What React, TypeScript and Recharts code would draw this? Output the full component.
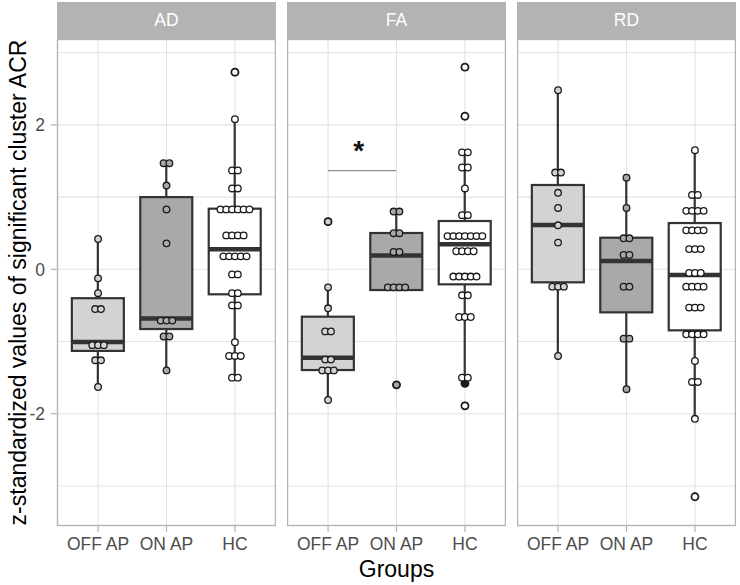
import React from 'react';
import { ComposedChart, Bar, Scatter, XAxis, YAxis, CartesianGrid, ReferenceLine } from 'recharts';

// facets and groups
const facets = ['AD', 'FA', 'RD'];
const groups = ['OFF AP', 'ON AP', 'HC'];
const yTicks = [-3, -2, -1, 0, 1, 2, 3];
const yDomain = [-3.555, 3.19];

// box stats, one row per facet (AD, FA, RD), columns OFF AP / ON AP / HC
const whiskerLow = [[-1.63, -1.40, -1.50], [-1.81, -0.287, -1.50], [-1.20, -1.66, -2.07]];
const q1 = [[-1.13, -0.827, -0.346], [-1.395, -0.287, -0.208], [-0.18, -0.596, -0.845]];
const median = [[-1.007, -0.68, 0.277], [-1.224, 0.19, 0.346], [0.614, 0.115, -0.079]];
const q3 = [[-0.40, 1.0, 0.84], [-0.656, 0.503, 0.669], [1.168, 0.438, 0.641]];
const whiskerHigh = [[0.42, 1.47, 2.08], [-0.25, 0.80, 1.62], [2.48, 1.27, 1.65]];

// dotplot values (binned), per group
const dotsAD = [
  [0.42, -0.125, -0.33, -0.55, -0.55, -1.05, -1.05, -1.05, -1.26, -1.26, -1.63],
  [1.47, 1.47, 1.16, 0.83, 0.36, -0.71, -0.71, -0.71, -0.93, -0.93, -1.40],
  [2.73, 2.08, 1.37, 1.37, 1.12, 1.12, 0.83, 0.83, 0.83, 0.83, 0.83, 0.83, 0.47, 0.47, 0.47, 0.47,
    0.18, 0.18, 0.18, 0.18, 0.18, -0.07, -0.07, -0.33, -0.33, -0.50, -0.50, -1.01, -1.20, -1.20, -1.20, -1.50, -1.50],
];
const dotsFA = [
  [0.66, -0.25, -0.54, -0.86, -0.86, -1.25, -1.25, -1.40, -1.40, -1.40, -1.81],
  [0.80, 0.80, 0.50, 0.50, 0.24, 0.24, -0.25, -0.25, -0.25, -0.25, -1.60],
  [2.80, 2.12, 1.62, 1.62, 1.41, 1.41, 1.12, 0.75, 0.75, 0.46, 0.46, 0.46, 0.46, 0.46, 0.46, 0.46,
    0.25, 0.25, 0.25, 0.25, -0.10, -0.10, -0.10, -0.10, -0.10, -0.36, -0.36, -0.66, -0.66, -0.66, -1.50, -1.50, -1.89],
];
const dotsRD = [
  [2.48, 1.34, 1.34, 1.06, 0.85, 0.61, 0.37, -0.24, -0.24, -0.24, -1.20],
  [1.27, 0.85, 0.43, 0.43, 0.20, 0.20, -0.24, -0.24, -0.96, -0.96, -1.66],
  [1.65, 1.03, 1.03, 0.81, 0.81, 0.81, 0.81, 0.54, 0.54, 0.54, 0.54, 0.28, 0.28, 0.28, -0.05, -0.05, -0.05,
    -0.24, -0.24, -0.24, -0.24, -0.53, -0.53, -0.53, -0.90, -0.90, -0.90, -0.90, -1.27, -1.56, -1.56, -2.07, -3.15],
];
const dotSets = [dotsAD, dotsFA, dotsRD];

// boxplot outliers
const outliersAD = [[], [], [2.73]];
const outliersFA = [[0.66], [-1.60], [2.80, 2.12, -1.58, -1.89]];
const outliersRD = [[], [], [-3.15]];
const outlierSets = [outliersAD, outliersFA, outliersRD];

// significance bracket in FA: OFF AP vs ON AP
const sigFacet = 1;
const sigPair = [1, 2];
const sigY = 1.366;
const sigLabel = '*';

const groupFill = ['#d3d3d3', '#a9a9a9', '#ffffff'];
const ink = '#333333';
const font = '"Liberation Sans", Arial, sans-serif';

const plotTop = 39;
const plotH = 487;
const panelLeft = [57, 287, 517];
const panelW = 219;
const axisW = 57;
const xAxisH = 50;
const dotStep = 5.8;

function stackDots(sets: number[][]) {
  const out: any[] = [];
  sets.forEach((vals, gi) => {
    const counts = new Map<number, number>();
    vals.forEach(v => counts.set(v, (counts.get(v) || 0) + 1));
    const seen = new Map<number, number>();
    vals.forEach(v => {
      const k = seen.get(v) || 0;
      seen.set(v, k + 1);
      out.push({ x: gi + 1, y: v, k, n: counts.get(v), g: gi });
    });
  });
  return out;
}

function BoxShape(props: any) {
  const { x, y, width, height, payload } = props;
  const top = Math.min(y, y + height);
  const h = Math.abs(height);
  const span = payload.hi - payload.lo;
  const py = (v: number) => top + ((payload.hi - v) / span) * h;
  const cx = x + width / 2;
  return (
    <g>
      <line x1={cx} x2={cx} y1={py(payload.hi)} y2={py(payload.q3)} stroke={ink} strokeWidth={2.2} />
      <line x1={cx} x2={cx} y1={py(payload.q1)} y2={py(payload.lo)} stroke={ink} strokeWidth={2.2} />
      <rect x={x} y={py(payload.q3)} width={width} height={py(payload.q1) - py(payload.q3)}
        fill={payload.fill} stroke={ink} strokeWidth={2.2} />
      <line x1={x} x2={x + width} y1={py(payload.med)} y2={py(payload.med)} stroke={ink} strokeWidth={4.5} />
    </g>
  );
}

function DotShape(props: any) {
  const { cx, cy, payload } = props;
  const off = (payload.k - (payload.n - 1) / 2) * dotStep;
  return <circle cx={cx + off} cy={cy} r={3.3} fill={groupFill[payload.g]} stroke="#1a1a1a" strokeWidth={1.3} />;
}

function OutlierShape(props: any) {
  const { cx, cy } = props;
  return <circle cx={cx} cy={cy} r={4.4} fill="#1a1a1a" />;
}

function XTick(props: any) {
  const { x, y, payload } = props;
  return (
    <text x={x} y={y + 16} textAnchor="middle" fill="#4d4d4d" fontSize={17.5} fontFamily={font}>
      {groups[payload.value - 1]}
    </text>
  );
}

function YTick(props: any) {
  const { x, y, payload } = props;
  if (payload.value % 2 !== 0) return <g />;
  return (
    <g>
      <line x1={x + 2} x2={x + 8} y1={y} y2={y} stroke="#b3b3b3" strokeWidth={1.2} />
      <text x={x - 4} y={y + 6.3} textAnchor="end" fill="#4d4d4d" fontSize={17.5} fontFamily={font}>
        {String(payload.value)}
      </text>
    </g>
  );
}

function SigStar(props: any) {
  const vb = props.viewBox || { x: 0, y: 0, width: 0 };
  return (
    <text x={vb.x + vb.width / 2 - 3.5} y={vb.y - 11} textAnchor="middle" fontSize={28} fontWeight="bold"
      fontFamily={font} fill="#111">
      {sigLabel}
    </text>
  );
}

function Facet({ index }: { index: number }) {
  const first = index === 0;
  const boxes = groups.map((g, i) => ({
    x: i + 1,
    range: [whiskerLow[index][i], whiskerHigh[index][i]],
    lo: whiskerLow[index][i],
    q1: q1[index][i],
    med: median[index][i],
    q3: q3[index][i],
    hi: whiskerHigh[index][i],
    fill: groupFill[i],
  }));
  const dots = stackDots(dotSets[index]);
  const outs = outlierSets[index].flatMap((vals, i) => vals.map(v => ({ x: i + 1, y: v })));

  return (
    <div style={{ position: 'absolute', left: first ? 0 : panelLeft[index], top: plotTop }}>
      <ComposedChart
        width={first ? axisW + panelW : panelW}
        height={plotH + xAxisH}
        data={boxes}
        margin={{ top: 0, right: 0, bottom: 0, left: 0 }}
      >
        <CartesianGrid stroke="#e3e3e3" strokeWidth={1.1} />
        <XAxis
          dataKey="x"
          type="number"
          domain={[0.4, 3.6]}
          ticks={[1, 2, 3]}
          interval={0}
          allowDataOverflow
          height={xAxisH}
          axisLine={false}
          tickSize={6}
          tickMargin={2}
          tickLine={{ stroke: '#b3b3b3', strokeWidth: 1.2 }}
          tick={<XTick />}
        />
        {first ? (
          <YAxis
            type="number"
            domain={yDomain}
            ticks={yTicks}
            interval={0}
            allowDataOverflow
            width={axisW}
            axisLine={false}
            tickLine={false}
            tickSize={6}
            tickMargin={2}
            tick={<YTick />}
          />
        ) : (
          <YAxis
            type="number"
            domain={yDomain}
            ticks={yTicks}
            interval={0}
            allowDataOverflow
            width={0}
            axisLine={false}
            tickLine={false}
            tick={() => <g />}
          />
        )}
        <Bar dataKey="range" barSize={52} shape={BoxShape} isAnimationActive={false} />
        <Scatter data={outs} dataKey="y" shape={OutlierShape} isAnimationActive={false} />
        <Scatter data={dots} dataKey="y" shape={DotShape} isAnimationActive={false} />
        {index === sigFacet && (
          <ReferenceLine
            segment={[{ x: sigPair[0], y: sigY }, { x: sigPair[1], y: sigY }]}
            stroke="#8c8c8c"
            strokeWidth={1.2}
            label={<SigStar />}
          />
        )}
      </ComposedChart>
    </div>
  );
}

export default function App() {
  return (
    <div style={{ position: 'absolute', left: 0, top: 0, width: 740, height: 585, background: '#fff', fontFamily: font }}>
      {facets.map((f, i) => <Facet key={f} index={i} />)}
      <svg width={740} height={585} style={{ position: 'absolute', left: 0, top: 0, pointerEvents: 'none' }}>
        {facets.map((f, i) => (
          <g key={f}>
            <rect x={panelLeft[i]} y={2} width={panelW} height={37} fill="#b3b3b3" />
            <text x={panelLeft[i] + panelW / 2} y={26.3} textAnchor="middle" fill="#ffffff" fontSize={17.5} fontFamily={font}>
              {f}
            </text>
            <rect x={panelLeft[i] + 0.6} y={plotTop + 0.6} width={panelW - 1.2} height={plotH - 1.2}
              fill="none" stroke="#b3b3b3" strokeWidth={1.2} />
          </g>
        ))}
        <text x={396.5} y={577} textAnchor="middle" fontSize={23} fontFamily={font} fill="#000">Groups</text>
        <text transform="translate(26,282.5) rotate(-90)" textAnchor="middle" fontSize={23} fontFamily={font} fill="#000">
          z-standardized values of significant cluster ACR
        </text>
      </svg>
    </div>
  );
}
